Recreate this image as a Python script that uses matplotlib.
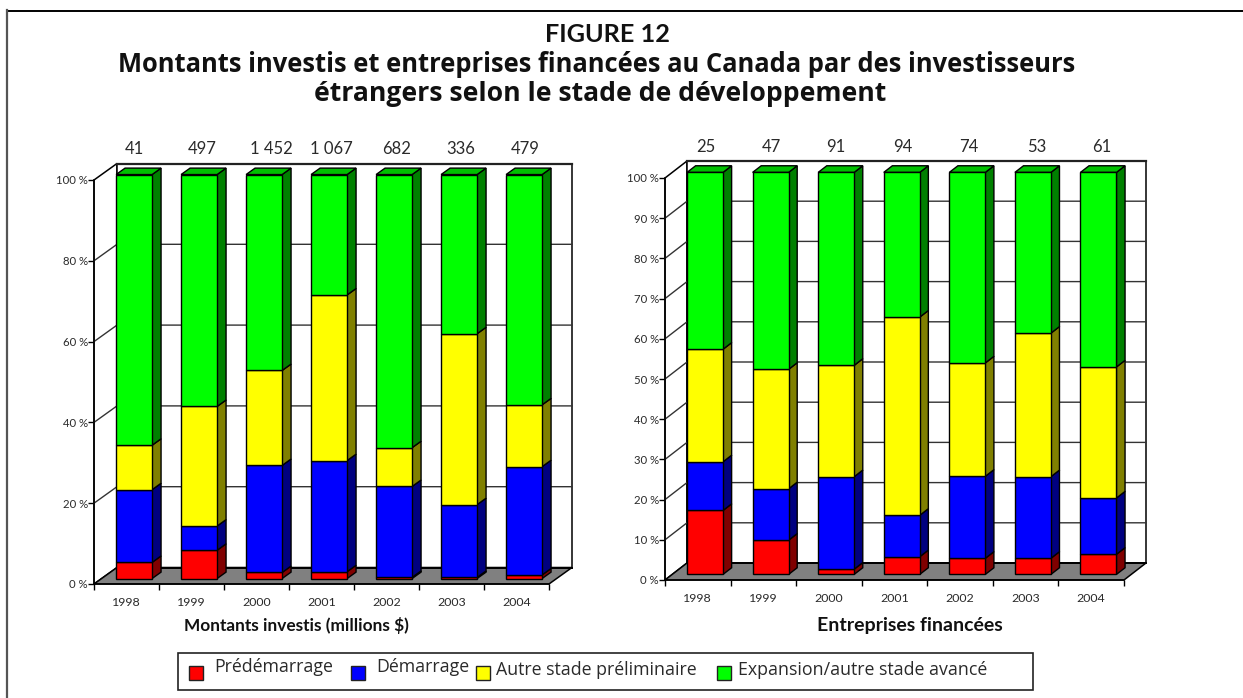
import matplotlib
matplotlib.use("Agg")
import matplotlib.pyplot as plt
from matplotlib.patches import Polygon, Rectangle
from matplotlib.lines import Line2D

W, H = 1243, 698

years = ["1998", "1999", "2000", "2001", "2002", "2003", "2004"]

# left panel: amounts invested (% by stage)
left_pre = [4.0, 7.0, 1.5, 1.7, 0.3, 0.3, 0.9]
left_dem = [18.0, 6.0, 26.5, 27.5, 22.5, 18.0, 26.8]
left_aut = [11.0, 29.6, 23.5, 41.0, 9.6, 42.3, 15.3]
left_exp = [67.0, 57.4, 48.5, 29.8, 67.6, 39.4, 57.0]
left_totals = ["41", "497", "1 452", "1 067", "682", "336", "479"]
left_yticks = [0, 20, 40, 60, 80, 100]

# right panel: companies financed (% by stage)
right_pre = [15.9, 8.5, 1.3, 4.4, 4.0, 4.0, 5.0]
right_dem = [12.1, 12.8, 23.0, 10.3, 20.4, 20.3, 14.0]
right_aut = [28.0, 29.7, 27.7, 49.3, 28.2, 35.7, 32.6]
right_exp = [44.0, 49.0, 48.0, 36.0, 47.4, 40.0, 48.4]
right_totals = ["25", "47", "91", "94", "74", "53", "61"]
right_yticks = [0, 10, 20, 30, 40, 50, 60, 70, 80, 90, 100]

stage_names = ["Prédémarrage", "Démarrage", "Autre stade préliminaire",
               "Expansion/autre stade avancé"]
front_colors = ["#ff0000", "#0000ff", "#ffff00", "#00ff00"]
side_colors = ["#800000", "#000080", "#808000", "#008000"]
top_color = "#00c000"

SANS = ["Lato", "DejaVu Sans"]
WIDE = ["Open Sans", "DejaVu Sans"]
TXT = "#2a2a2a"

fig = plt.figure(figsize=(W / 100, H / 100), dpi=100, facecolor="white")


def panel(box, depth_px, series, totals, yticks, nudges, xlabel, xlabel_cx, xlabel_size):
    x0, x1, ybot, ytop = box
    ax = fig.add_axes([x0 / W, 1 - ybot / H, (x1 - x0) / W, (ybot - ytop) / H])
    ax.set_xlim(0, len(years))
    ax.set_ylim(0, 100)
    ax.patch.set_visible(False)
    ux = (x1 - x0) / len(years)
    uy = (ybot - ytop) / 100
    dx = depth_px[0] / ux
    dy = depth_px[1] / uy

    def pr(x, y, d):
        return (x + d * dx, y + d * dy)

    def poly(pts, fc, ec="black", lw=1.0, z=2):
        ax.add_patch(Polygon(pts, closed=True, facecolor=fc, edgecolor=ec,
                             linewidth=lw, joinstyle="miter", clip_on=False, zorder=z))

    n = len(years)
    # walls and floor
    poly([pr(0, 0, 0), pr(0, 100, 0), pr(0, 100, 1), pr(0, 0, 1)], "white", lw=1.1)
    poly([pr(0, 0, 1), pr(0, 100, 1), pr(n, 100, 1), pr(n, 0, 1)], "white", lw=1.1)
    ax.plot([pr(0, 100, 1)[0], pr(n, 100, 1)[0]], [pr(0, 100, 1)[1]] * 2,
            color="#222222", lw=1.6, clip_on=False, zorder=2.2)
    poly([pr(0, 0, 0), pr(n, 0, 0), pr(n, 0, 1), pr(0, 0, 1)], "#808080", lw=1.1)
    ax.plot([pr(0, 0, 1)[0], pr(n, 0, 1)[0]], [pr(0, 0, 1)[1]] * 2,
            color="black", lw=1.4, clip_on=False, zorder=2.2)
    # gridlines on side and back walls
    for t in yticks[1:-1]:
        a, b, c = pr(0, t, 0), pr(0, t, 1), pr(n, t, 1)
        ax.plot([a[0], b[0], c[0]], [a[1], b[1], c[1]], color="#333333", lw=1.0,
                clip_on=False, zorder=2.1, solid_joinstyle="miter")
    # bars
    d0, d1 = 0.33, 0.72
    bw = 36.0 / ux
    for i in range(n):
        xl, xr = i + 0.5 - bw / 2, i + 0.5 + bw / 2
        base = 0.0
        for s, vals in enumerate(series):
            top = base + vals[i]
            poly([pr(xr, base, d0), pr(xr, top, d0), pr(xr, top, d1), pr(xr, base, d1)],
                 side_colors[s], z=3)
            poly([pr(xl, base, d0), pr(xr, base, d0), pr(xr, top, d0), pr(xl, top, d0)],
                 front_colors[s], z=3.1)
            base = top
        poly([pr(xl, base, d0), pr(xr, base, d0), pr(xr, base, d1), pr(xl, base, d1)],
             top_color, z=3)
        cx = pr(i + 0.5, 100, d0)[0]
        ax.annotate(totals[i], (cx, 100), xytext=(nudges[i] * 0.72, 31 * 0.72),
                    textcoords="offset points", ha="center", va="center",
                    family=SANS, fontsize=12, color=TXT, annotation_clip=False)

    # axes: real ticks on the front edges
    for sp in ("top", "right"):
        ax.spines[sp].set_visible(False)
    for sp in ("left", "bottom"):
        ax.spines[sp].set_zorder(2.5)
        ax.spines[sp].set_linewidth(1.1)
    ax.set_zorder(1)
    ax.set_yticks(yticks)
    ax.set_yticklabels([f"{t} %" for t in yticks], family=SANS, fontsize=8.2, color=TXT)
    ax.tick_params(axis="y", length=6 * 0.72, width=1.0, pad=0)
    ax.set_xticks(range(n + 1))
    ax.set_xticklabels([])
    ax.set_xticks([i + 0.5 for i in range(n)], minor=True)
    ax.set_xticklabels(years, minor=True, family=SANS, fontsize=8.9, color=TXT)
    ax.tick_params(axis="x", which="major", length=6 * 0.72, width=1.0)
    ax.tick_params(axis="x", which="minor", length=0, pad=9)
    fig.text(xlabel_cx / W, 1 - 626 / H, xlabel, ha="center", va="center",
             family=SANS, fontweight="bold", fontsize=xlabel_size, color="#111111")
    return ax


panel((94, 549, 584, 180), (23, 16.5), [left_pre, left_dem, left_aut, left_exp],
      left_totals, left_yticks, [0, 3, 7, 2, 2, 2, 1],
      "Montants investis (millions $)", 296, 12.4)
panel((665, 1124, 580, 178), (22, 17), [right_pre, right_dem, right_aut, right_exp],
      right_totals, right_yticks, [1, 1, 0, 1, 1, 4, 3],
      "Entreprises financées", 910, 14.0)

# page frame
fig.add_artist(Line2D([7 / W, W / W], [1 - 10.5 / H] * 2, color="black", lw=1.4))
fig.add_artist(Line2D([7 / W, 7 / W], [1 - 10 / H, 0], color="#555555", lw=1.6))

# titles
fig.text(607 / W, 1 - 35 / H, "FIGURE 12", ha="center", va="center", family=SANS,
         fontweight="bold", fontsize=18.2, color="#111111")
fig.text(597 / W, 1 - 64 / H,
         "Montants investis et entreprises financées au Canada par des investisseurs",
         ha="center", va="center", family=WIDE, fontweight="bold", fontsize=18.4, color="#111111")
fig.text(600 / W, 1 - 94 / H, "étrangers selon le stade de développement",
         ha="center", va="center", family=WIDE, fontweight="bold", fontsize=19.1, color="#111111")

# legend
fig.add_artist(Rectangle((178 / W, 1 - 690 / H), (1033 - 178) / W, 37 / H,
                         transform=fig.transFigure, facecolor="white", edgecolor="#222222", lw=1.2))
swatch_x = [189, 351, 476, 717]
text_x = [214, 376, 496, 738]
text_y = [667, 667, 670, 670]
for s, name in enumerate(stage_names):
    fig.add_artist(Rectangle((swatch_x[s] / W, 1 - 680 / H), 14 / W, 14 / H,
                             transform=fig.transFigure, facecolor=front_colors[s],
                             edgecolor="#222222", lw=1.0))
    fig.text(text_x[s] / W, 1 - text_y[s] / H, name, ha="left", va="center",
             family=WIDE, fontsize=12.8, color=TXT)

fig.savefig("out.png", dpi=100)
